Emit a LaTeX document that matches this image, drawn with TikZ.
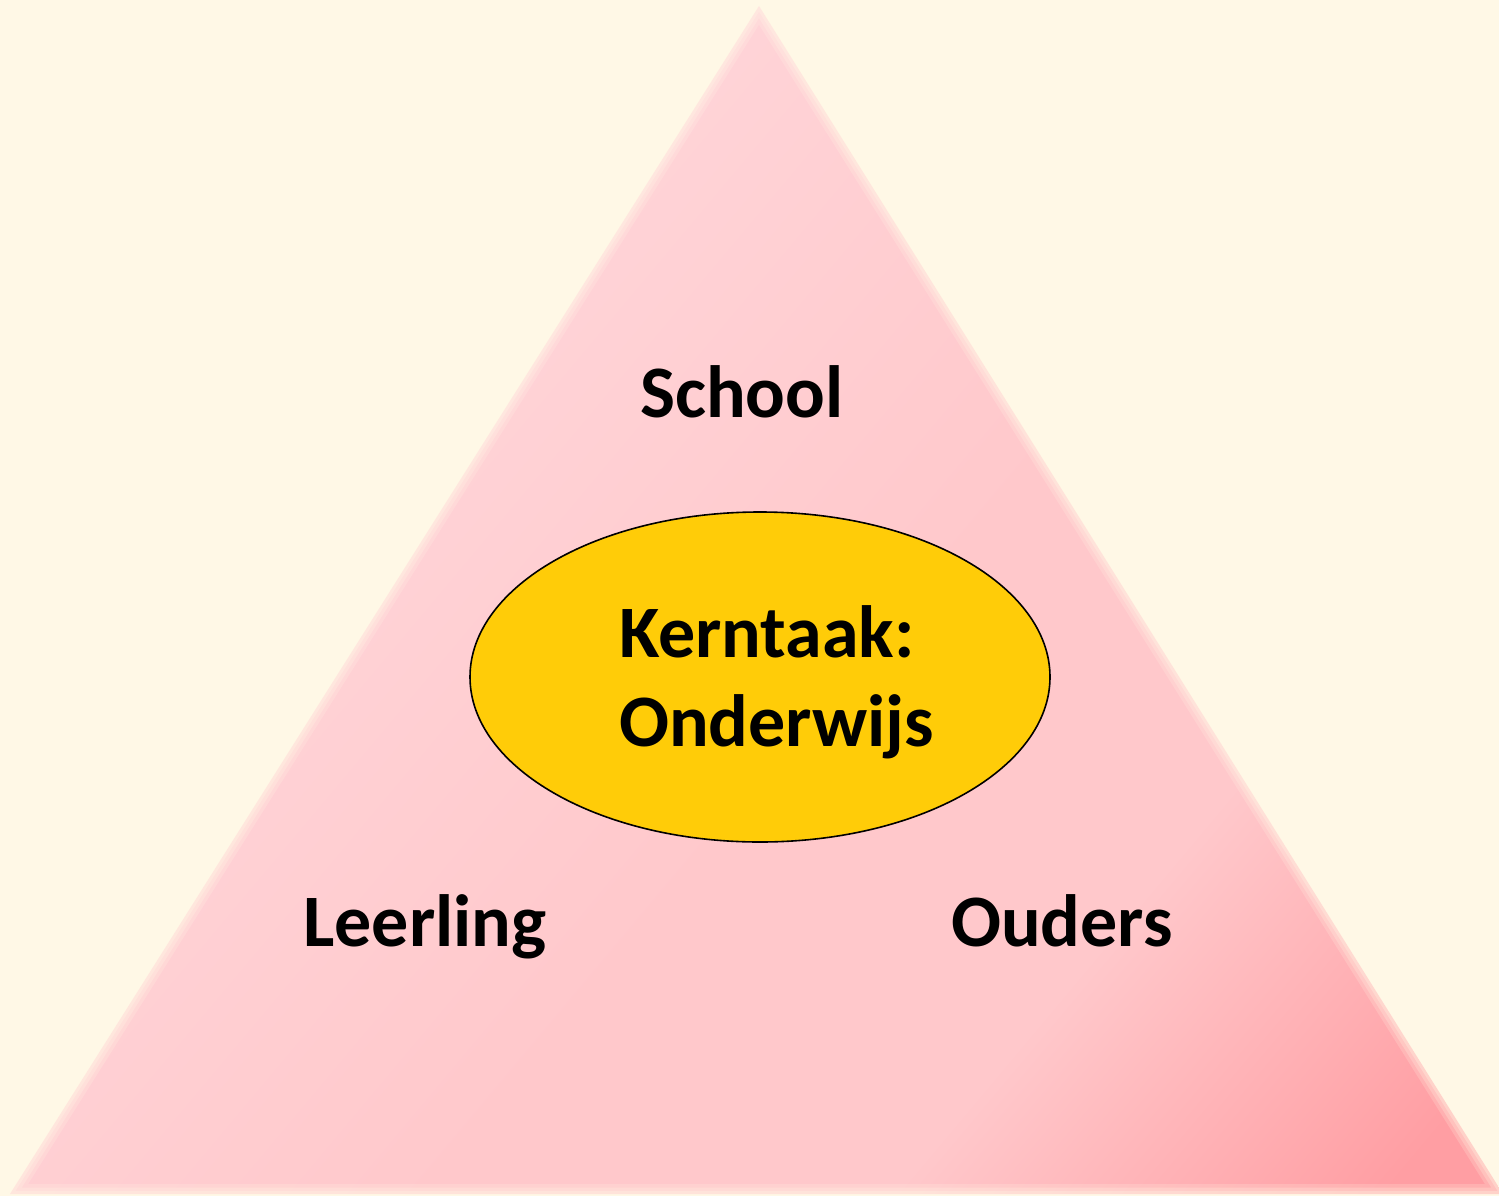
\documentclass[tikz,border=0pt]{standalone}
\usepackage{fontspec}
\setmainfont{Carlito}
\definecolor{bgcream}{HTML}{FFF8E6}
\definecolor{pinkA}{HTML}{FFD7DB}
\definecolor{pinkB}{HTML}{FFC8CB}
\definecolor{pinkC}{HTML}{FF9EA3}
\definecolor{gold}{HTML}{FFCC08}
\pgfdeclarehorizontalshading{trishade}{100bp}{color(0bp)=(pinkA); color(30bp)=(pinkA); color(55bp)=(pinkB); color(68bp)=(pinkB); color(82bp)=(pinkC); color(100bp)=(pinkC)}
\tikzset{
  lbl/.style={font=\bfseries\fontsize{74}{89}\selectfont, text=black, inner sep=0pt},
  core/.style={ellipse, draw=black, line width=1.6pt, fill=gold, minimum width=580pt, minimum height=330pt, inner sep=0pt},
}
\usetikzlibrary{shapes.geometric}
\begin{document}
\begin{tikzpicture}[x=1pt,y=-1pt]
\fill[bgcream] (0,0) rectangle (1499,1196);
\useasboundingbox (0,0) rectangle (1499,1196);
\coordinate (apex) at (759,6);
\coordinate (bl) at (10,1194);
\coordinate (br) at (1503,1194);
\shade[shading=trishade, shading angle=-40] (apex) -- (br) -- (bl) -- cycle;
\foreach \w/\o in {20/0.2, 13/0.25, 6/0.3}{
  \draw[bgcream, opacity=\o, line width=\w pt, line join=round] (apex) -- (br) -- (bl) -- cycle;
}
\node[core] (kern) at (760,677) {};
\node[lbl, align=left, anchor=base west] (kt) at (619,746) {Kerntaak:\\Onderwijs};
\node[lbl, anchor=base] (school) at (742,417) {School};
\node[lbl, anchor=base] (leer) at (425,946) {Leerling};
\node[lbl, anchor=base] (ouders) at (1062,946) {Ouders};
\end{tikzpicture}
\end{document}
